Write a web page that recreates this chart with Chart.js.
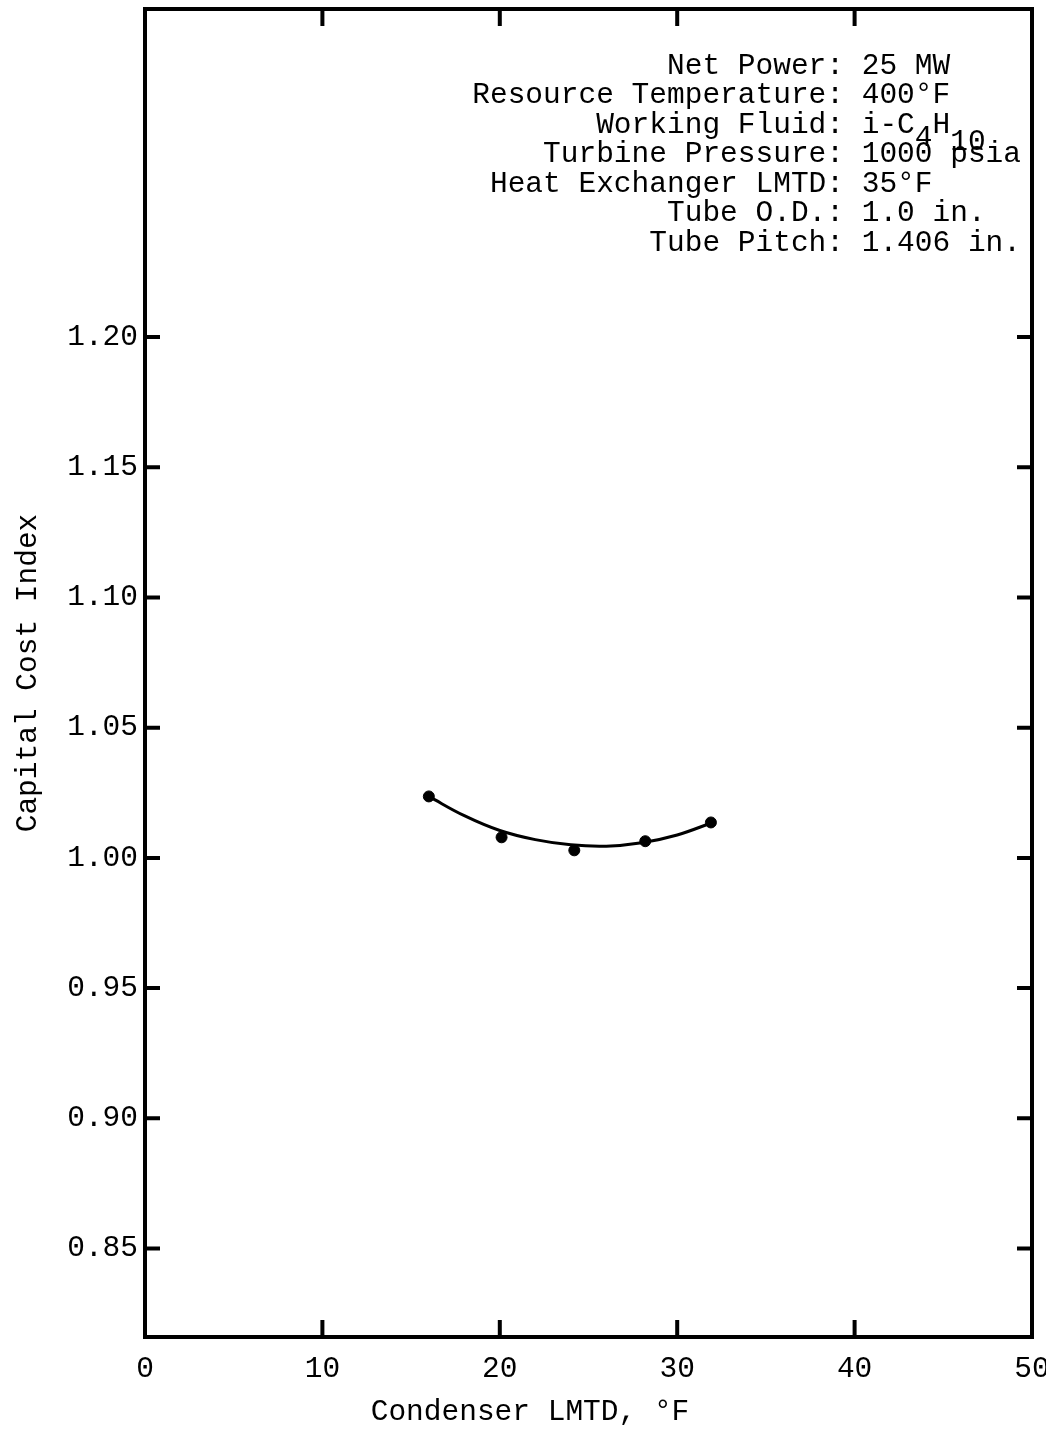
<!DOCTYPE html>
<html>
<head>
<meta charset="utf-8">
<script src="https://cdn.jsdelivr.net/npm/chart.js@4"></script>
<style>
  html, body { margin: 0; padding: 0; background: #fff; }
  #wrap { width: 1046px; height: 1431px; }
</style>
</head>
<body>
<div id="wrap"><canvas id="plot"></canvas></div>
<script>
// values
const lmtdPoints = [16.0, 20.1, 24.2, 28.2, 31.9];
const costPoints = [1.0236, 1.0079, 1.0029, 1.0064, 1.0136];
const lmtdCurve = [16, 18, 20, 22, 24, 26, 28, 30, 32];
const costCurve = [1.0236, 1.0162, 1.0105, 1.0070, 1.0050, 1.0045, 1.0058, 1.0088, 1.0136];
const xTicks = [0, 10, 20, 30, 40, 50];
const yTicks = [0.85, 0.90, 0.95, 1.00, 1.05, 1.10, 1.15, 1.20];
const noteLabels = ['Net Power:', 'Resource Temperature:', 'Working Fluid:', 'Turbine Pressure:',
    'Heat Exchanger LMTD:', 'Tube O.D.:', 'Tube Pitch:'];
// "_" marks a subscript
const noteValues = ['25 MW', '400°F', 'i-C_4H_10', '1000 psia', '35°F', '1.0 in.', '1.406 in.'];
const xTitle = 'Condenser LMTD, °F';
const yTitle = 'Capital Cost Index';

const mono = '"Liberation Mono", "DejaVu Sans Mono", monospace';
const textSize = 29.5;

const framePlugin = {
    id: 'frame',
    afterDraw(chart) {
        const { ctx, chartArea: a, scales: { x, y } } = chart;
        ctx.save();
        ctx.strokeStyle = '#000';
        ctx.fillStyle = '#000';
        ctx.lineWidth = 4;
        ctx.strokeRect(a.left, a.top, a.right - a.left, a.bottom - a.top);

        // inward ticks on all four sides
        ctx.beginPath();
        xTicks.slice(1, -1).forEach((v) => {
            const px = x.getPixelForValue(v);
            ctx.moveTo(px, a.bottom); ctx.lineTo(px, a.bottom - 17);
            ctx.moveTo(px, a.top); ctx.lineTo(px, a.top + 17);
        });
        yTicks.forEach((v) => {
            const py = y.getPixelForValue(v);
            ctx.moveTo(a.left, py); ctx.lineTo(a.left + 15, py);
            ctx.moveTo(a.right, py); ctx.lineTo(a.right - 15, py);
        });
        ctx.stroke();

        // x axis title (sits left of centre in the original)
        ctx.font = textSize + 'px ' + mono;
        ctx.textAlign = 'center';
        ctx.textBaseline = 'middle';
        ctx.fillText(xTitle, 530, 1412);

        // parameter block, colons lined up
        const colonX = a.right - 188;
        const space = ctx.measureText(' ').width;
        noteLabels.forEach((label, i) => {
            const ly = a.top + 57 + i * 29.5;
            ctx.textAlign = 'right';
            ctx.fillText(label, colonX, ly);
            ctx.textAlign = 'left';
            let vx = colonX + space;
            const parts = noteValues[i].split('_');
            parts.forEach((part, j) => {
                if (j === 0) {
                    ctx.fillText(part, vx, ly);
                    vx += ctx.measureText(part).width;
                    return;
                }
                // leading digits are the subscript
                const sub = part.match(/^\d+/)[0];
                const rest = part.slice(sub.length);
                ctx.fillText(sub, vx, ly + (rest ? 13 : 17));
                vx += ctx.measureText(sub).width;
                if (rest) {
                    ctx.fillText(rest, vx, ly);
                    vx += ctx.measureText(rest).width;
                }
            });
        });
        ctx.restore();
    }
};

new Chart(document.getElementById('plot'), {
    type: 'scatter',
    data: {
        datasets: [
            {
                data: lmtdCurve.map((v, i) => ({ x: v, y: costCurve[i] })),
                showLine: true,
                borderColor: '#000',
                borderWidth: 3,
                pointRadius: 0,
                tension: 0.4,
                fill: false,
            },
            {
                data: lmtdPoints.map((v, i) => ({ x: v, y: costPoints[i] })),
                backgroundColor: '#000',
                borderColor: '#000',
                pointRadius: 5.5,
                showLine: false,
            }
        ]
    },
    options: {
        responsive: true,
        maintainAspectRatio: false,
        animation: false,
        layout: { padding: { left: 8, right: 14, top: 9, bottom: 0 } },
        plugins: {
            legend: { display: false },
            tooltip: { enabled: false },
        },
        scales: {
            x: {
                type: 'linear',
                min: 0,
                max: 50,
                afterBuildTicks: (axis) => { axis.ticks = xTicks.map((v) => ({ value: v })); },
                afterFit: (axis) => { axis.height = 94; axis.paddingLeft = 0; axis.paddingRight = 0; },
                grid: { display: false },
                border: { display: false },
                ticks: {
                    color: '#000',
                    padding: 6,
                    maxRotation: 0,
                    font: { family: mono, size: textSize },
                },
            },
            y: {
                min: 0.816,
                max: 1.326,
                afterBuildTicks: (axis) => { axis.ticks = yTicks.map((v) => ({ value: v })); },
                afterFit: (axis) => { axis.width = 137; axis.paddingTop = 0; axis.paddingBottom = 0; },
                grid: { display: false, drawTicks: false },
                border: { display: false },
                ticks: {
                    color: '#000',
                    padding: 7,
                    font: { family: mono, size: textSize },
                    callback: (v) => Number(v).toFixed(2),
                },
                title: {
                    display: true,
                    text: yTitle,
                    color: '#000',
                    padding: { top: 2, bottom: 0 },
                    font: { family: mono, size: textSize },
                },
            }
        }
    },
    plugins: [framePlugin]
});
</script>
</body>
</html>
